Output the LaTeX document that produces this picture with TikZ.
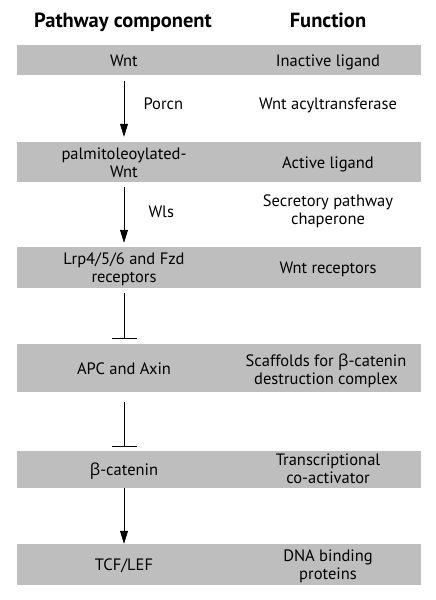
\documentclass[tikz,border=0pt]{standalone}
\usepackage{fontspec}
\setmainfont{PT Sans}
\newfontfamily\greekfont{Open Sans}
\usetikzlibrary{arrows.meta}
\definecolor{barGray}{RGB}{190,190,190}
\newcommand{\betachar}{{\greekfont β}}
\tikzset{
    bar-box/.style = {fill=barGray, rectangle, minimum width=404pt, inner sep=0pt},
    item-text/.style = {align=center, anchor=base, font=\fontsize{16.5}{17.5}\selectfont},
    head-text/.style = {anchor=base, font=\fontsize{20.5}{22}\selectfont\bfseries},
    activates/.style = {-{Triangle[length=13pt,width=8pt]}, line width=0.7pt},
    inhibits/.style = {-{Bar[width=25pt,line width=0.7pt]}, line width=0.7pt},
}

\begin{document}
\begin{tikzpicture}[x=1pt,y=-1pt]
\useasboundingbox (0,0) rectangle (436,600);
% column heads
\node[head-text] (headcomp) at (123,27) {Pathway component};
\node[head-text] (headfunc) at (328,27) {Function};

% grey bars
\node[bar-box, minimum height=30pt] (wnt) at (219,60) {};
\node[bar-box, minimum height=40pt] (palm) at (219,162) {};
\node[bar-box, minimum height=41pt] (lrp) at (219,267.5) {};
\node[bar-box, minimum height=48pt] (apc) at (219,368) {};
\node[bar-box, minimum height=37pt] (bcat) at (219,469.5) {};
\node[bar-box, minimum height=41pt] (tcf) at (219,564.5) {};

% pathway components (placed on their last baseline)
\node[item-text] (wntname) at (124,66) {Wnt};
\node[item-text] (palmname) at (124,177) {palmitoleoylated-\\Wnt};
\node[item-text] (lrpname) at (124,282) {Lrp4/5/6 and Fzd\\receptors};
\node[item-text] (apcname) at (124,374.5) {APC and Axin};
\node[item-text] (bcatname) at (124,475.5) {\betachar-catenin};
\node[item-text] (tcfname) at (124,570.5) {TCF/LEF};

% functions
\node[item-text] (wntfunc) at (328,66) {Inactive ligand};
\node[item-text] (porcnfunc) at (328,109) {Wnt acyltransferase};
\node[item-text] (palmfunc) at (328,168) {Active ligand};
\node[item-text] (wlsfunc) at (328,224) {Secretory pathway\\chaperone};
\node[item-text] (lrpfunc) at (328,273.5) {Wnt receptors};
\node[item-text] (apcfunc) at (326,384) {Scaffolds for \betachar-catenin\\destruction complex};
\node[item-text] (bcatfunc) at (328,483) {Transcriptional\\co-activator};
\node[item-text] (tcffunc) at (328,579) {DNA binding\\proteins};

% enzymes
\node[item-text, anchor=base west] (porcn) at (140,109) {Porcn};
\node[item-text, anchor=base west] (wls) at (145,217) {Wls};

% arrows
\draw[activates, shorten <=6pt, shorten >=5pt] (wnt.south -| wntname) -- (palm.north -| wntname);
\draw[activates, shorten <=5pt, shorten >=4pt] (palm.south -| wntname) -- (lrp.north -| wntname);
\draw[inhibits, shorten <=5pt, shorten >=5pt] (lrp.south -| wntname) -- (apc.north -| wntname);
\draw[inhibits, shorten <=10pt, shorten >=4pt] (apc.south -| wntname) -- (bcat.north -| wntname);
\draw[activates] (bcat.south -| wntname) -- (tcf.north -| wntname);
\end{tikzpicture}
\end{document}
